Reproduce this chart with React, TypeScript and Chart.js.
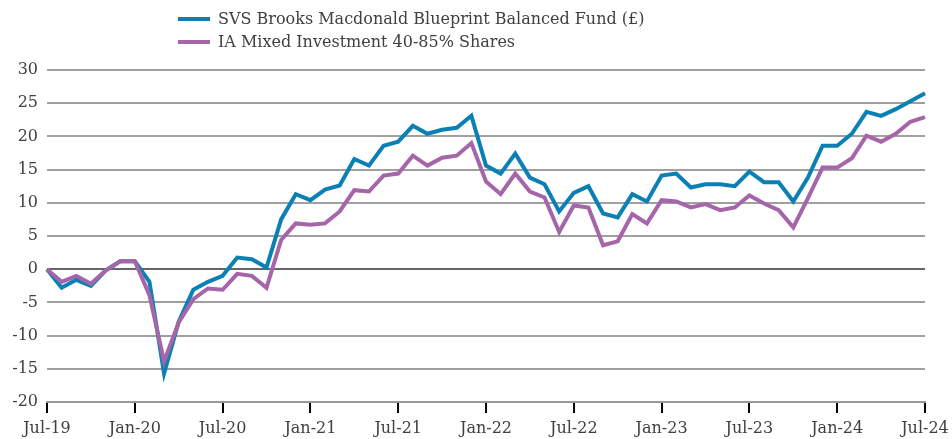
import React, { useEffect, useRef } from "react";
import { Chart, registerables } from "chart.js";

Chart.register(...registerables);

const months = ["Jan", "Feb", "Mar", "Apr", "May", "Jun", "Jul", "Aug", "Sep", "Oct", "Nov", "Dec"];
const categories: string[] = [];
for (let i = 0; i <= 60; i++) {
  const m = (6 + i) % 12;
  const y = 19 + Math.floor((6 + i) / 12);
  categories.push(`${months[m]}-${y}`);
}

const fundName = "SVS Brooks Macdonald Blueprint Balanced Fund (£)";
const sectorName = "IA Mixed Investment 40-85% Shares";

const fundValues = [
  0, -2.8, -1.6, -2.5, -0.2, 1.2, 1.2, -1.9, -15.7, -7.9,
  -3.1, -1.9, -1.0, 1.75, 1.5, 0.25, 7.5, 11.3, 10.4, 12.0,
  12.6, 16.6, 15.6, 18.6, 19.2, 21.6, 20.4, 21.0, 21.3, 23.1,
  15.6, 14.4, 17.4, 13.8, 12.8, 8.7, 11.5, 12.5, 8.4, 7.8,
  11.3, 10.2, 14.1, 14.4, 12.3, 12.8, 12.8, 12.5, 14.7, 13.1,
  13.1, 10.2, 13.8, 18.6, 18.6, 20.4, 23.7, 23.1, 24.1, 25.3,
  26.5,
];

const sectorValues = [
  0, -1.9, -1.0, -2.2, -0.2, 1.2, 1.2, -3.9, -13.9, -8.0,
  -4.5, -2.9, -3.1, -0.7, -1.0, -2.8, 4.4, 6.9, 6.7, 6.9,
  8.7, 11.9, 11.7, 14.1, 14.4, 17.1, 15.6, 16.8, 17.1, 19.0,
  13.2, 11.3, 14.4, 11.7, 10.8, 5.6, 9.6, 9.3, 3.6, 4.2,
  8.3, 6.9, 10.4, 10.2, 9.3, 9.8, 8.9, 9.3, 11.1, 9.9,
  8.9, 6.3, 10.7, 15.3, 15.3, 16.7, 20.1, 19.2, 20.4, 22.2,
  22.9,
];

const yMin = -20;
const yMax = 30;
const yStep = 5;

const FONT = "'DejaVu Serif'";
const BLUE = "#0a80b4";
const PURPLE = "#a565a8";

const legendPlugin = {
  id: "customLegend",
  afterDraw(chart: any) {
    const ctx = chart.ctx;
    const items = [
      { label: fundName, color: BLUE, y: 19 },
      { label: sectorName, color: PURPLE, y: 42 },
    ];
    ctx.save();
    ctx.font = `16px ${FONT}`;
    ctx.textBaseline = "middle";
    ctx.textAlign = "left";
    for (const it of items) {
      ctx.strokeStyle = it.color;
      ctx.lineWidth = 4;
      ctx.lineCap = "butt";
      ctx.beginPath();
      ctx.moveTo(178, it.y);
      ctx.lineTo(210, it.y);
      ctx.stroke();
      ctx.fillStyle = "#404040";
      ctx.fillText(it.label, 218, it.y + 1);
    }
    ctx.restore();
  },
};

export default function App() {
  const ref = useRef<HTMLCanvasElement | null>(null);
  useEffect(() => {
    if (!ref.current) return;
    const chart = new Chart(ref.current, {
      type: "line",
      data: {
        labels: categories,
        datasets: [
          {
            label: fundName,
            data: fundValues,
            borderColor: BLUE,
            backgroundColor: BLUE,
            borderWidth: 4,
            pointRadius: 0,
            tension: 0,
            order: 2,
          },
          {
            label: sectorName,
            data: sectorValues,
            borderColor: PURPLE,
            backgroundColor: PURPLE,
            borderWidth: 4,
            pointRadius: 0,
            tension: 0,
            order: 1,
          },
        ],
      },
      options: {
        animation: false,
        responsive: true,
        maintainAspectRatio: false,
        layout: { padding: { top: 70, right: 27, left: 0, bottom: 0 } },
        plugins: {
          legend: { display: false },
          tooltip: { enabled: false },
        },
        scales: {
          x: {
            type: "category",
            offset: false,
            afterBuildTicks: (scale: any) => {
              scale.ticks = scale.ticks.filter((t: any) => t.value % 6 === 0);
            },
            afterFit: (scale: any) => {
              scale.height = 37;
              scale.paddingRight = 0;
              scale.paddingLeft = 0;
            },
            ticks: {
              autoSkip: false,
              maxRotation: 0,
              minRotation: 0,
              color: "#404040",
              font: { family: FONT, size: 16 },
              padding: 6,
            },
            grid: {
              drawOnChartArea: false,
              drawTicks: true,
              tickLength: 11,
              tickColor: "#000000",
              tickWidth: 2,
              lineWidth: 2,
            },
            border: { display: true, color: "#999999", width: 2 },
          },
          y: {
            min: yMin,
            max: yMax,
            afterFit: (scale: any) => {
              scale.width = 47;
            },
            ticks: {
              stepSize: yStep,
              color: "#404040",
              font: { family: FONT, size: 16 },
              padding: 9,
            },
            grid: {
              drawTicks: false,
              color: (c: any) => (c.tick && c.tick.value === 0 ? "#666666" : "#a0a0a0"),
              lineWidth: 2,
            },
            border: { display: false },
          },
        },
      },
      plugins: [legendPlugin],
    });
    return () => chart.destroy();
  }, []);
  return (
    <div style={{ position: "absolute", left: 0, top: 0, width: 952, height: 439 }}>
      <canvas ref={ref} />
    </div>
  );
}
